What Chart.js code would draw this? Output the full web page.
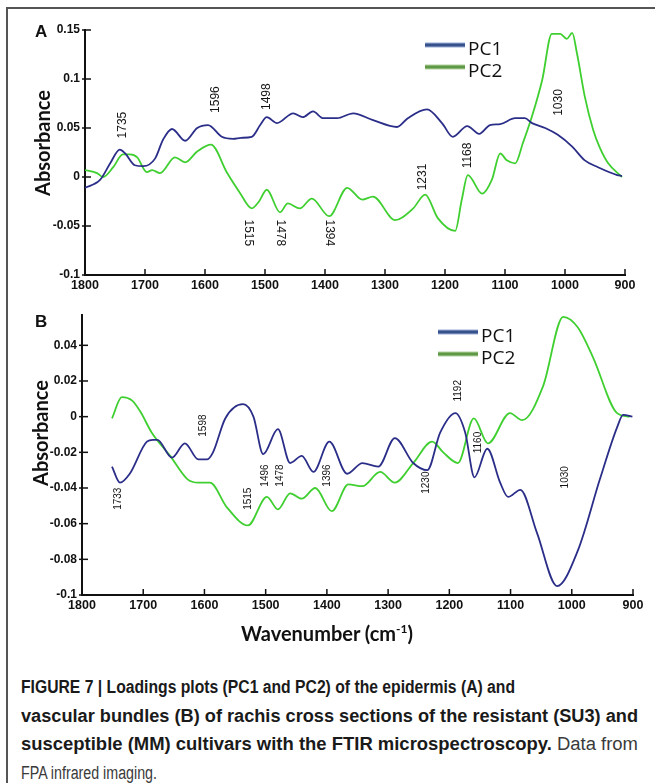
<!DOCTYPE html>
<html>
<head>
<meta charset="utf-8">
<script src="https://cdn.jsdelivr.net/npm/chart.js@4"></script>
<style>
  body { margin: 0; background: #fff; }
  #page { position: relative; width: 655px; height: 783px; overflow: hidden; }
  #frame { position: absolute; left: 6px; top: 7px; width: 680px; height: 800px;
           border-top: 2px solid #555; border-left: 2px solid #555; }
  canvas { position: absolute; left: 0; }
  #chartA { top: 0; }
  #chartB { top: 300px; }
  .tag { position: absolute; font: bold 17px "Liberation Sans", Arial, sans-serif; color: #111; }
  .axt { position: absolute; white-space: nowrap; font: bold 20px Lato, "Open Sans", sans-serif; color: #111;
         transform: translate(-50%, -50%); }
  .axt.rot { transform: translate(-50%, -50%) rotate(-90deg); }
  .axt sup { font-size: 12px; vertical-align: 8px; line-height: 0; }
  #cap { position: absolute; left: 21px; top: 673px; white-space: nowrap;
         font: 18px/28.5px "Liberation Sans", Arial, sans-serif; color: #3a3a3a; }
  #cap b { color: #1a1a1a; }
  .ln { width: max-content; transform-origin: 0 50%; }
</style>
</head>
<body>
<div id="page">
  <div id="frame"></div>
  <canvas id="chartA" width="655" height="300"></canvas>
  <canvas id="chartB" width="655" height="355"></canvas>
  <div class="tag" style="left:35px; top:22px;">A</div>
  <div class="tag" style="left:35px; top:312px;">B</div>
  <div class="axt rot" style="left:42px; top:143px;">Absorbance</div>
  <div class="axt rot" style="left:40px; top:433px;">Absorbance</div>
  <div class="axt" style="left:327px; top:633px;">Wavenumber (cm<sup>-1</sup>)</div>
  <div id="cap">
    <div class="ln" data-w="494"><b>FIGURE 7 | Loadings plots (PC1 and PC2) of the epidermis (A) and</b></div>
    <div class="ln" data-w="617"><b>vascular bundles (B) of rachis cross sections of the resistant (SU3) and</b></div>
    <div class="ln" data-w="617"><b>susceptible (MM) cultivars with the FTIR microspectroscopy.</b> Data from</div>
    <div class="ln" data-w="136">FPA infrared imaging.</div>
  </div>
</div>
<script>
// ---- Panel A (epidermis) ----
const aWave1 = [1800, 1775, 1758, 1742, 1733, 1717, 1703, 1683, 1670, 1655, 1633, 1613, 1595, 1572, 1553, 1540, 1522, 1508, 1497, 1480, 1453, 1437, 1420, 1403, 1380, 1353, 1320, 1280, 1262, 1230, 1205, 1187, 1163, 1143, 1125, 1108, 1083, 1067, 1055, 1033, 1012, 988, 967, 945, 913, 905];
const aPC1 = [-0.011, -0.003, 0.014, 0.028, 0.024, 0.012, 0.011, 0.019, 0.038, 0.049, 0.037, 0.050, 0.053, 0.041, 0.039, 0.040, 0.041, 0.053, 0.061, 0.055, 0.065, 0.061, 0.067, 0.060, 0.060, 0.065, 0.058, 0.051, 0.060, 0.069, 0.055, 0.041, 0.052, 0.044, 0.053, 0.054, 0.060, 0.060, 0.055, 0.050, 0.043, 0.031, 0.017, 0.010, 0.002, 0.001];
const aWave2 = [1800, 1780, 1770, 1753, 1737, 1725, 1713, 1697, 1688, 1675, 1650, 1633, 1613, 1590, 1563, 1542, 1522, 1510, 1497, 1475, 1462, 1442, 1422, 1393, 1363, 1338, 1320, 1283, 1253, 1233, 1212, 1183, 1172, 1162, 1138, 1122, 1108, 1097, 1083, 1070, 1055, 1038, 1022, 1008, 997, 988, 980, 967, 953, 942, 928, 905];
const aPC2 = [0.007, 0.004, 0.000, 0.010, 0.023, 0.023, 0.020, 0.005, 0.007, 0.004, 0.020, 0.015, 0.026, 0.033, 0.004, -0.016, -0.032, -0.025, -0.013, -0.036, -0.027, -0.032, -0.022, -0.040, -0.011, -0.023, -0.020, -0.044, -0.032, -0.018, -0.042, -0.055, -0.023, 0.002, -0.017, -0.003, 0.024, 0.017, 0.014, 0.035, 0.062, 0.099, 0.146, 0.146, 0.141, 0.147, 0.126, 0.082, 0.048, 0.030, 0.014, 0.000];
const aYTicks = [-0.1, -0.05, 0, 0.05, 0.1, 0.15];
const aPeakText = ['1735', '1596', '1498', '1515', '1478', '1394', '1231', '1168', '1030'];
const aPeakX = [1738, 1583, 1497, 1528, 1475, 1393, 1238, 1163, 1010];
const aPeakY = [0.053, 0.079, 0.082, -0.057, -0.057, -0.057, 0.0, 0.022, 0.076];
const aPeakDown = ['1515', '1478', '1394'];

// ---- Panel B (vascular bundles) ----
const bWave1 = [1751, 1738, 1722, 1694, 1684, 1677, 1653, 1632, 1610, 1596, 1586, 1566, 1537, 1520, 1504, 1480, 1460, 1441, 1422, 1396, 1367, 1342, 1316, 1289, 1259, 1236, 1215, 1190, 1174, 1159, 1138, 1117, 1104, 1084, 1057, 1024, 990, 954, 926, 916, 901];
const bPC1 = [-0.028, -0.037, -0.032, -0.014, -0.013, -0.013, -0.023, -0.015, -0.024, -0.024, -0.020, -0.001, 0.007, 0.000, -0.021, -0.007, -0.026, -0.022, -0.031, -0.014, -0.032, -0.026, -0.028, -0.012, -0.026, -0.030, -0.009, 0.002, -0.009, -0.034, -0.018, -0.037, -0.045, -0.041, -0.065, -0.095, -0.075, -0.035, -0.006, 0.001, 0.000];
const bWave2 = [1751, 1735, 1718, 1705, 1686, 1656, 1628, 1610, 1591, 1563, 1529, 1498, 1480, 1460, 1441, 1419, 1392, 1365, 1342, 1313, 1289, 1259, 1228, 1210, 1186, 1160, 1137, 1101, 1081, 1047, 1014, 990, 965, 926, 905];
const bPC2 = [-0.001, 0.011, 0.009, 0.003, -0.009, -0.022, -0.035, -0.037, -0.037, -0.051, -0.061, -0.045, -0.052, -0.043, -0.046, -0.040, -0.053, -0.038, -0.039, -0.031, -0.037, -0.026, -0.014, -0.020, -0.026, -0.001, -0.015, 0.002, -0.002, 0.017, 0.056, 0.050, 0.033, 0.002, 0.000];
const bYTicks = [-0.1, -0.08, -0.06, -0.04, -0.02, 0, 0.02, 0.04];
const bPeakText = ['1733', '1598', '1515', '1496', '1478', '1396', '1230', '1192', '1160', '1030'];
const bPeakX = [1741, 1602, 1529, 1501, 1476, 1400, 1238, 1186, 1153, 1011];
const bPeakY = [-0.046, -0.005, -0.046, -0.033, -0.033, -0.033, -0.037, 0.0145, -0.0145, -0.034];

const xTicks = [900, 1000, 1100, 1200, 1300, 1400, 1500, 1600, 1700, 1800];
const seriesNames = ['PC1', 'PC2'];

const BLUE = '#2b2e88';
const GREEN = '#3fcf30';
const xTickFont = { family: '"Liberation Sans", Arial, sans-serif', size: 12.5, weight: 'bold' };
const yTickFont = { family: '"Liberation Sans", Arial, sans-serif', size: 12, weight: 'bold' };

function points(xs, ys) {
  return xs.map((x, i) => ({ x: x, y: ys[i] }));
}

// small inward tick marks, like the original plot
const inwardTicks = {
  id: 'inwardTicks',
  afterDraw(chart) {
    const { ctx, chartArea, scales: { x, y } } = chart;
    ctx.save();
    ctx.strokeStyle = '#111';
    ctx.lineWidth = 1.5;
    x.ticks.forEach(t => {
      const px = x.getPixelForValue(t.value);
      ctx.beginPath();
      ctx.moveTo(px, chartArea.bottom);
      ctx.lineTo(px, chartArea.bottom - 6);
      ctx.stroke();
    });
    y.ticks.forEach(t => {
      const py = y.getPixelForValue(t.value);
      ctx.beginPath();
      ctx.moveTo(chartArea.left - 3, py);
      ctx.lineTo(chartArea.left + 6, py);
      ctx.stroke();
    });
    ctx.restore();
  }
};

// rotated wavenumber labels next to the peaks
const peakLabels = {
  id: 'peakLabels',
  afterDatasetsDraw(chart, args, opts) {
    const { ctx, scales: { x, y } } = chart;
    ctx.save();
    ctx.font = opts.font;
    ctx.fillStyle = '#151515';
    ctx.textAlign = 'center';
    ctx.textBaseline = 'middle';
    opts.text.forEach((txt, i) => {
      ctx.save();
      ctx.translate(x.getPixelForValue(opts.xs[i]), y.getPixelForValue(opts.ys[i]));
      ctx.rotate(opts.down.includes(txt) ? Math.PI / 2 : -Math.PI / 2);
      ctx.fillText(txt, 0, 0);
      ctx.restore();
    });
    ctx.restore();
  }
};

// legend floating inside the plot
const floatLegend = {
  id: 'floatLegend',
  afterDraw(chart, args, opts) {
    const ctx = chart.ctx;
    ctx.save();
    chart.data.datasets.forEach((ds, i) => {
      const y = opts.y + i * opts.gap;
      const g = ctx.createLinearGradient(0, y - 2.5, 0, y + 2.5);
      g.addColorStop(0, opts.edge[i]);
      g.addColorStop(0.5, opts.core[i]);
      g.addColorStop(1, opts.edge[i]);
      ctx.fillStyle = g;
      ctx.fillRect(opts.x, y - 2.5, opts.len, 5);
      ctx.fillStyle = '#111';
      ctx.font = '19px "Open Sans", sans-serif';
      ctx.textAlign = 'left';
      ctx.textBaseline = 'middle';
      ctx.fillText(ds.label, opts.x + opts.len + 3, y + 5);
    });
    ctx.restore();
  }
};

function makePanel(id, sets, yTicks, yMax, pad, yWidth, xHeight, peaks, legendPos) {
  return new Chart(document.getElementById(id), {
    type: 'line',
    data: {
      datasets: sets.map((s, i) => ({
        label: seriesNames[i],
        data: s,
        borderColor: i === 0 ? BLUE : GREEN,
        borderWidth: 1.8,
        pointRadius: 0,
        cubicInterpolationMode: 'monotone',
        fill: false
      }))
    },
    options: {
      responsive: false,
      animation: false,
      layout: { padding: pad },
      plugins: {
        legend: { display: false },
        tooltip: { enabled: false },
        peakLabels: peaks,
        floatLegend: Object.assign({
          len: 40, gap: 22,
          core: ['#1d3a7a', '#4b8a2e'],
          edge: ['#9aaed4', '#b3d3a2']
        }, legendPos)
      },
      scales: {
        x: {
          type: 'linear',
          reverse: true,
          min: 900,
          max: 1800,
          grid: { display: false, drawTicks: false },
          border: { color: '#111', width: 2 },
          ticks: { color: '#111', font: xTickFont, padding: 3, autoSkip: false, maxRotation: 0, callback: v => String(v) },
          afterBuildTicks: s => { s.ticks = xTicks.map(v => ({ value: v })); },
          afterFit: s => { s.height = xHeight; }
        },
        y: {
          min: -0.1,
          max: yMax,
          grid: { display: false, drawTicks: false },
          border: { color: '#111', width: 2 },
          ticks: { color: '#111', font: yTickFont, padding: 5, callback: v => String(v) },
          afterBuildTicks: s => { s.ticks = yTicks.map(v => ({ value: v })); },
          afterFit: s => { s.width = yWidth; }
        }
      }
    },
    plugins: [inwardTicks, peakLabels, floatLegend]
  });
}

makePanel('chartA',
  [points(aWave1, aPC1), points(aWave2, aPC2)],
  aYTicks, 0.15,
  { left: 20, top: 30, right: 30, bottom: 0 }, 65, 25,
  { text: aPeakText, xs: aPeakX, ys: aPeakY, down: aPeakDown, font: '12px "Liberation Sans", Arial, sans-serif' },
  { x: 425, y: 45 });

makePanel('chartB',
  [points(bWave1, bPC1), points(bWave2, bPC2)],
  bYTicks, 0.057,
  { left: 20, top: 15, right: 22, bottom: 0 }, 62, 60,
  { text: bPeakText, xs: bPeakX, ys: bPeakY, down: [], font: '10px "Liberation Sans", Arial, sans-serif' },
  { x: 438, y: 32 });

// squeeze / stretch each caption line to the width it has in the figure
document.querySelectorAll('#cap .ln').forEach(el => {
  const w = el.getBoundingClientRect().width;
  el.style.transform = 'scaleX(' + (el.dataset.w / w) + ')';
});
</script>
</body>
</html>
